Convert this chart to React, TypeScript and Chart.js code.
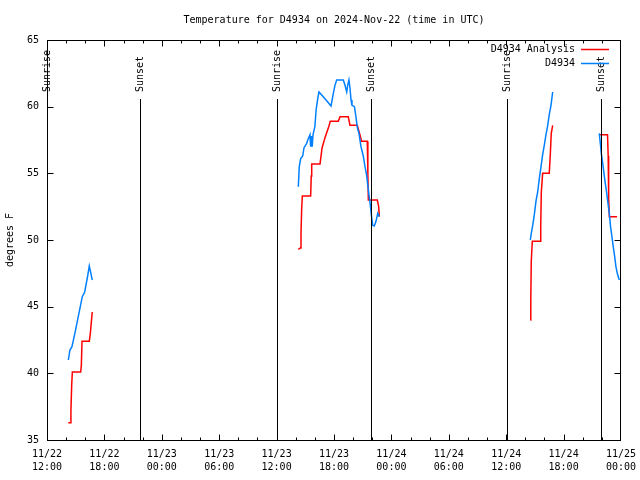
import React, { useEffect, useRef } from "react";
import { Chart, registerables } from "chart.js";

Chart.register(...registerables);

// Hours since 2024-11-22 12:00 UTC
const analysisHours = [
  2.23, 2.44, 2.5, 2.58, 2.65, 3.52, 3.59, 3.66, 4.42, 4.53, 4.63, 4.73,
  15,
  26.27, 26.48, 26.55, 26.62, 26.69, 27.56, 27.62, 27.67, 28.54, 28.75, 29.09, 29.45, 29.61, 30.45, 30.63, 31.49, 31.67, 32.43, 32.71, 32.89, 33.48, 33.54, 33.59, 34.53, 34.67, 34.74,
  40,
  50.52, 50.57, 50.62, 50.73, 51.56, 51.61, 51.67, 51.81, 52.5, 52.61, 52.71, 52.86,
  55,
  57.73, 58.59, 58.66, 58.71, 58.78, 59.59,
];
const analysisTemps = [
  36.3, 36.3, 37.2, 39.1, 40.1, 40.1, 40.6, 42.4, 42.4, 43.0, 43.8, 44.6,
  null,
  49.3, 49.4, 50.5, 52.3, 53.3, 53.3, 54.8, 55.7, 55.7, 56.9, 57.75, 58.5, 58.9, 58.9, 59.25, 59.25, 58.6, 58.6, 57.9, 57.4, 57.4, 55.0, 53.0, 53.0, 52.5, 51.75,
  null,
  44.0, 45.5, 48.4, 49.9, 49.9, 51.1, 53.6, 55.0, 55.0, 56.4, 58.0, 58.6,
  null,
  57.9, 57.9, 56.3, 53.2, 51.75, 51.75,
];

const obsHours = [
  2.23, 2.4, 2.61, 2.93, 3.31, 3.69, 3.94, 4.25, 4.42, 4.57, 4.73,
  15,
  26.27, 26.37, 26.52, 26.73, 26.86, 27.14, 27.31, 27.49, 27.56, 27.63, 27.72, 27.81, 28.0, 28.13, 28.3, 28.43, 29.06, 29.69, 29.93, 30.1, 30.28, 30.97, 31.15, 31.33, 31.43, 31.56, 31.67, 31.78, 31.88, 32.14, 32.3, 32.45, 32.61, 32.82, 33.06, 33.24, 33.4, 33.55, 33.69, 33.8, 33.92, 34.05, 34.21, 34.39, 34.57, 34.74,
  40,
  50.52, 50.62, 50.77, 50.94, 51.11, 51.29, 51.46, 51.64, 51.81, 51.98, 52.16, 52.34, 52.5, 52.68, 52.86,
  55,
  57.73, 57.84, 57.94, 58.09, 58.22, 58.36, 58.51, 58.64, 58.78, 58.91, 59.05, 59.19, 59.34, 59.47, 59.61, 59.82,
];
const obsTemps = [
  41.0, 41.75, 42.0, 43.05, 44.4, 45.75, 46.1, 47.3, 48.05, 47.55, 47.0,
  null,
  54.0, 55.5, 56.1, 56.3, 56.9, 57.25, 57.6, 57.9, 57.0, 57.8, 57.0, 57.9, 58.5, 59.75, 60.6, 61.1, 60.6, 60.05, 61.0, 61.6, 62.0, 62.0, 61.6, 61.1, 61.6, 62.0, 61.4, 60.5, 60.1, 60.0, 59.2, 58.4, 58.0, 57.0, 56.3, 55.5, 54.9, 54.0, 53.2, 52.6, 51.8, 51.1, 51.05, 51.4, 52.0, 51.75,
  null,
  50.0, 50.5, 51.1, 51.9, 52.9, 53.6, 54.6, 55.5, 56.4, 57.1, 57.9, 58.6, 59.4, 60.1, 61.1,
  null,
  58.0, 57.25, 56.5, 55.75, 55.0, 54.25, 53.5, 52.75, 52.0, 51.0, 50.25, 49.5, 48.75, 48.0, 47.5, 47.0,
];

const xTickDates = ["11/22", "11/22", "11/23", "11/23", "11/23", "11/23", "11/24", "11/24", "11/24", "11/24", "11/25"];
const xTickTimes = ["12:00", "18:00", "00:00", "06:00", "12:00", "18:00", "00:00", "06:00", "12:00", "18:00", "00:00"];

const sunTimes = [0.0, 9.72, 24.04, 33.87, 48.08, 57.91];
const sunLabels = ["Sunrise", "Sunset", "Sunrise", "Sunset", "Sunrise", "Sunset"];

const FONT = "'DejaVu Sans Mono', monospace";

const toPoints = (xs: number[], ys: (number | null)[]) => xs.map((x, i) => ({ x, y: ys[i] }));

const overlayPlugin = {
  id: "overlay",
  afterDraw(chart: any) {
    const { ctx, chartArea } = chart;
    const { left, right, top, bottom } = chartArea;
    const xs = chart.scales.x;
    const ys = chart.scales.y;
    ctx.save();
    ctx.strokeStyle = "#000";
    ctx.fillStyle = "#000";
    ctx.lineWidth = 1;
    const L = Math.round(left) + 0.5;
    const R = Math.round(right) - 0.5;
    const T = Math.round(top) + 0.5;
    const B = Math.round(bottom) + 0.5;
    // ticks
    ctx.beginPath();
    xs.ticks.forEach((t: any) => {
      const v = t.value;
      if (v <= xs.min || v >= xs.max) return;
      const px = Math.round(xs.getPixelForValue(v)) + 0.5;
      const len = v % 6 === 0 ? 6 : 3;
      ctx.moveTo(px, B);
      ctx.lineTo(px, B - len);
      ctx.moveTo(px, T);
      ctx.lineTo(px, T + len);
    });
    ys.ticks.forEach((t: any) => {
      const v = t.value;
      if (v <= ys.min || v >= ys.max) return;
      const py = Math.round(ys.getPixelForValue(v)) + 0.5;
      ctx.moveTo(L, py);
      ctx.lineTo(L + 6, py);
      ctx.moveTo(R, py);
      ctx.lineTo(R - 6, py);
    });
    ctx.stroke();
    // frame
    ctx.strokeRect(L, T, R - L, B - T);
    // sunrise / sunset
    ctx.font = `10px ${FONT}`;
    sunTimes.forEach((t, i) => {
      const px = Math.round(xs.getPixelForValue(t)) + 0.5;
      ctx.beginPath();
      ctx.moveTo(px, top + 59);
      ctx.lineTo(px, B);
      ctx.stroke();
      ctx.save();
      ctx.translate(px, top + 52);
      ctx.rotate(-Math.PI / 2);
      ctx.textAlign = "left";
      ctx.textBaseline = "middle";
      ctx.fillText(sunLabels[i], 0, 0);
      ctx.restore();
    });
    // legend
    ctx.textAlign = "right";
    ctx.textBaseline = "middle";
    chart.data.datasets.forEach((ds: any, i: number) => {
      const ry = top + 9 + i * 14;
      ctx.fillStyle = "#000";
      ctx.fillText(ds.label, right - 46, ry);
      ctx.strokeStyle = ds.borderColor;
      ctx.lineWidth = 1.5;
      ctx.beginPath();
      ctx.moveTo(right - 40, ry + 0.5);
      ctx.lineTo(right - 12, ry + 0.5);
      ctx.stroke();
    });
    ctx.restore();
  },
};

export default function App() {
  const canvasRef = useRef<HTMLCanvasElement | null>(null);

  useEffect(() => {
    const canvas = canvasRef.current;
    if (!canvas) return;
    const chart = new Chart(canvas, {
      type: "line",
      data: {
        datasets: [
          {
            label: "D4934 Analysis",
            data: toPoints(analysisHours, analysisTemps) as any,
            borderColor: "#ff0000",
            borderWidth: 1.5,
            pointRadius: 0,
            tension: 0,
            spanGaps: false,
            order: 1,
          },
          {
            label: "D4934",
            data: toPoints(obsHours, obsTemps) as any,
            borderColor: "#0080ff",
            borderWidth: 1.5,
            pointRadius: 0,
            tension: 0,
            spanGaps: false,
            order: 0,
          },
        ],
      },
      options: {
        animation: false,
        responsive: false,
        maintainAspectRatio: false,
        layout: { padding: { left: 0, right: 19, top: 0, bottom: 0 } },
        plugins: {
          legend: { display: false },
          tooltip: { enabled: false },
          title: {
            display: true,
            text: "Temperature for D4934 on 2024-Nov-22 (time in UTC)",
            color: "#000",
            font: { family: FONT, size: 10, weight: "normal", lineHeight: 1.2 },
            padding: { top: 14, bottom: 14 },
            fullSize: false,
          },
        },
        scales: {
          x: {
            type: "linear",
            min: 0,
            max: 60,
            grid: { display: false, drawTicks: false },
            border: { display: false },
            ticks: {
              stepSize: 2,
              autoSkip: false,
              maxRotation: 0,
              minRotation: 0,
              padding: 7.5,
              color: "#000",
              font: { family: FONT, size: 10, lineHeight: 1.3 },
              callback: (value: any) => {
                const v = Number(value);
                if (v % 6 !== 0) return "";
                const i = v / 6;
                return [xTickDates[i], xTickTimes[i]];
              },
            },
            afterFit: (scale: any) => {
              scale.height = 40;
              scale.paddingLeft = 0;
              scale.paddingRight = 0;
            },
          },
          y: {
            min: 35,
            max: 65,
            grid: { display: false, drawTicks: false },
            border: { display: false },
            ticks: {
              stepSize: 5,
              padding: 8,
              color: "#000",
              font: { family: FONT, size: 10 },
            },
            title: {
              display: true,
              text: "degrees F",
              color: "#000",
              font: { family: FONT, size: 10 },
              padding: { top: 4, bottom: 0 },
            },
            afterFit: (scale: any) => {
              scale.width = 47;
              scale.paddingTop = 0;
              scale.paddingBottom = 0;
            },
          },
        },
      } as any,
      plugins: [overlayPlugin],
    });
    return () => chart.destroy();
  }, []);

  return (
    <div style={{ position: "absolute", left: 0, top: 0, width: 640, height: 480, background: "#fff" }}>
      <canvas ref={canvasRef} width={640} height={480} />
    </div>
  );
}
